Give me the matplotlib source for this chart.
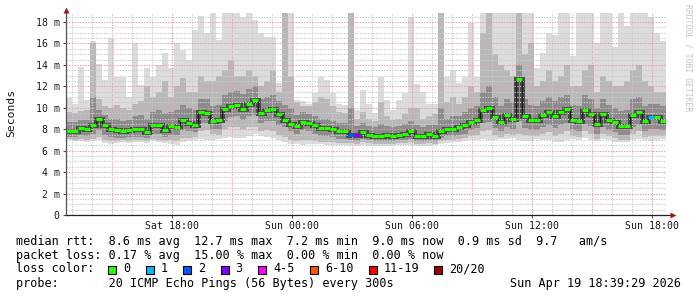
import numpy as np
import matplotlib
matplotlib.use("Agg")
import matplotlib.pyplot as plt
from matplotlib.patches import Rectangle
from matplotlib.ticker import FixedLocator, NullLocator

W, H = 697, 297
MONO = "DejaVu Sans Mono"

# ---- time axis: 30 h window, one bin per 18 minutes (hours since Sat 00:00)
start_hour = 12.7
step_hours = 0.3
window_hours = 30.0

x_tick_hours = [18, 24, 30, 36, 42]
x_tick_labels = ["Sat 18:00", "Sun 00:00", "Sun 06:00", "Sun 12:00", "Sun 18:00"]
y_ticks = [0, 2, 4, 6, 8, 10, 12, 14, 16, 18]
y_tick_labels = ["0", "2 m", "4 m", "6 m", "8 m", "10 m", "12 m", "14 m", "16 m", "18 m"]

# ---- median rtt (ms)
median = [7.8, 7.85, 8.1, 8.0, 8.4, 9.0, 8.4, 8.0, 7.95, 7.8,
          7.95, 8.05, 8.0, 7.75, 8.35, 8.4, 7.95, 8.3, 8.25, 8.9,
          8.6, 8.4, 9.6, 9.55, 8.75, 8.9, 9.9, 10.2, 10.25, 9.9,
          10.4, 10.7, 9.5, 9.8, 9.85, 9.4, 8.9, 8.5, 8.3, 8.7,
          8.55, 8.4, 8.15, 8.1, 8.0, 7.8, 7.85, 7.5, 7.45, 7.7,
          7.5, 7.4, 7.4, 7.45, 7.4, 7.5, 7.6, 7.8, 7.4, 7.35,
          7.6, 7.4, 7.8, 8.05, 8.0, 8.2, 8.4, 8.7, 8.9, 9.8,
          10.0, 9.1, 8.7, 9.3, 9.0, 12.7, 9.2, 8.9, 8.9, 9.3,
          9.6, 9.2, 9.65, 9.9, 8.9, 8.8, 9.8, 9.4, 8.5, 9.4,
          8.9, 8.65, 8.3, 8.3, 9.3, 9.6, 8.8, 9.1, 9.1, 8.8]

# ---- packet loss per bin (pings lost of 20)
loss = [0, 0, 0, 0, 0, 0, 0, 0, 0, 0,
        0, 0, 0, 0, 0, 0, 0, 0, 0, 0,
        0, 0, 0, 0, 0, 0, 0, 0, 0, 0,
        0, 0, 0, 0, 0, 0, 0, 0, 0, 0,
        0, 0, 0, 0, 0, 0, 0, 2, 3, 0,
        0, 0, 0, 0, 0, 0, 0, 0, 0, 0,
        0, 0, 0, 0, 0, 0, 0, 0, 0, 0,
        0, 0, 0, 0, 0, 0, 0, 0, 0, 0,
        0, 0, 0, 0, 0, 0, 0, 0, 0, 0,
        0, 0, 0, 0, 0, 0, 0, 1, 0, 0]

# ---- smoke: spread of the 20 pings (ms)
smoke_max = [10.9, 10.4, 13.8, 10.7, 16.2, 14.1, 12.6, 16.5, 12.9, 12.9,
             11.0, 16.0, 12.1, 13.7, 12.9, 14.0, 15.1, 13.7, 16.0, 15.4,
             14.5, 17.3, 18.6, 17.0, 19.0, 16.3, 19.0, 19.0, 19.0, 18.5,
             19.0, 18.2, 17.0, 16.6, 16.6, 12.3, 19.0, 19.0, 10.7, 10.6,
             10.4, 11.4, 12.9, 12.6, 11.4, 10.4, 10.3, 19.0, 9.8, 11.7,
             10.4, 9.5, 12.9, 10.7, 9.8, 10.7, 11.4, 18.5, 12.2, 11.5,
             10.4, 10.4, 19.0, 12.9, 13.5, 12.3, 12.9, 17.9, 12.9, 19.0,
             19.0, 19.0, 19.0, 19.0, 19.0, 19.0, 19.0, 19.0, 13.7, 15.1,
             17.0, 16.8, 19.0, 19.0, 14.8, 19.0, 19.0, 19.0, 16.0, 19.0,
             19.0, 15.7, 19.0, 17.6, 19.0, 19.0, 19.0, 18.5, 17.0, 16.2]
smoke_hi2 = [9.6, 9.5, 9.7, 9.8, 16.0, 10.8, 10.2, 10.0, 10.3, 10.0,
             9.8, 10.4, 10.6, 12.0, 11.0, 11.5, 12.5, 11.0, 12.0, 12.8,
             11.5, 11.5, 13.0, 12.5, 12.5, 13.0, 13.5, 14.5, 13.0, 13.0,
             13.5, 13.0, 12.0, 12.5, 13.5, 11.5, 19.0, 13.0, 10.5, 10.2,
             10.2, 10.5, 11.0, 10.8, 10.2, 9.6, 9.5, 19.0, 9.0, 9.6,
             9.0, 8.8, 10.5, 9.2, 8.9, 9.0, 9.4, 10.0, 10.0, 9.0,
             9.2, 9.4, 19.0, 10.5, 11.0, 10.4, 11.0, 12.0, 11.5, 17.0,
             19.0, 15.0, 14.0, 13.5, 13.0, 19.0, 15.0, 16.0, 12.0, 12.5,
             13.5, 12.5, 13.0, 14.0, 12.0, 12.0, 13.5, 14.0, 11.5, 13.0,
             12.5, 12.0, 12.0, 12.5, 13.5, 14.0, 12.5, 12.0, 11.5, 11.5]
smoke_hi3 = [8.7, 8.7, 8.9, 8.9, 11.0, 9.8, 9.3, 9.0, 9.0, 8.8,
             8.9, 9.2, 9.3, 9.0, 9.6, 9.8, 9.5, 9.6, 9.8, 10.3,
             10.0, 9.8, 10.8, 10.8, 10.2, 10.3, 11.2, 11.5, 11.6, 11.3,
             11.8, 12.0, 10.8, 11.0, 11.2, 10.6, 10.3, 10.0, 9.3, 9.6,
             9.4, 9.2, 9.0, 9.0, 8.8, 8.6, 8.6, 10.0, 8.3, 8.6,
             8.3, 8.2, 8.5, 8.3, 8.2, 8.3, 8.5, 8.8, 8.4, 8.2,
             8.4, 8.4, 10.0, 9.0, 9.2, 9.2, 9.6, 10.0, 10.2, 11.5,
             12.0, 11.0, 10.2, 10.8, 10.5, 14.0, 10.8, 10.3, 10.2, 10.6,
             11.0, 10.6, 11.0, 11.2, 10.3, 10.2, 11.2, 10.8, 10.0, 10.8,
             10.3, 10.0, 9.7, 9.8, 10.8, 11.0, 10.2, 10.4, 10.4, 10.2]
smoke_lo3 = [7.3, 7.3, 7.5, 7.4, 7.6, 7.9, 7.5, 7.3, 7.2, 7.2,
             7.3, 7.3, 7.3, 7.2, 7.6, 7.6, 7.3, 7.5, 7.5, 7.9,
             7.8, 7.7, 8.6, 8.6, 8.0, 8.0, 8.8, 9.1, 9.2, 8.9,
             9.2, 9.3, 8.6, 8.8, 8.8, 8.4, 8.2, 7.8, 7.6, 7.9,
             7.8, 7.6, 7.4, 7.4, 7.3, 7.1, 7.1, 7.0, 6.9, 7.1,
             7.0, 6.9, 6.9, 6.9, 6.9, 7.0, 7.0, 7.1, 6.9, 6.9,
             7.0, 6.9, 7.2, 7.4, 7.4, 7.5, 7.6, 7.9, 8.1, 8.6,
             8.7, 8.1, 7.8, 8.2, 8.0, 8.8, 8.1, 7.9, 7.9, 8.2,
             8.4, 8.1, 8.4, 8.6, 7.9, 7.8, 8.5, 8.3, 7.6, 8.2,
             7.9, 7.7, 7.5, 7.5, 8.2, 8.4, 7.8, 8.0, 8.0, 7.9]
smoke_lo2 = [7.1, 7.0, 7.1, 7.0, 7.1, 7.3, 7.0, 6.9, 6.9, 7.0,
             6.9, 7.0, 7.0, 6.9, 7.1, 7.0, 6.9, 7.0, 6.9, 7.2,
             7.2, 7.3, 7.8, 7.9, 7.6, 7.5, 8.0, 8.2, 8.2, 8.0,
             8.2, 8.2, 7.8, 7.9, 7.8, 7.5, 7.3, 7.0, 6.9, 7.0,
             7.0, 6.9, 6.8, 6.8, 6.8, 6.7, 6.7, 6.7, 6.6, 6.8,
             6.7, 6.6, 6.6, 6.6, 6.6, 6.7, 6.7, 6.8, 6.6, 6.6,
             6.7, 6.6, 6.9, 7.0, 7.0, 7.1, 7.2, 7.4, 7.5, 7.8,
             7.9, 7.5, 7.3, 7.6, 7.5, 7.6, 7.5, 7.4, 7.4, 7.6,
             7.7, 7.4, 7.6, 7.8, 7.4, 7.3, 7.8, 7.6, 7.1, 7.6,
             7.4, 7.2, 7.0, 7.0, 7.6, 7.8, 7.3, 7.4, 7.4, 7.4]
smoke_min = [7.0, 6.9, 6.9, 6.8, 6.9, 7.0, 6.7, 6.6, 6.7, 6.8,
             6.7, 6.8, 6.8, 6.7, 6.9, 6.8, 6.7, 6.6, 6.5, 6.8,
             6.9, 7.0, 7.1, 7.0, 7.0, 7.1, 7.2, 7.3, 7.2, 7.2,
             7.4, 7.6, 7.4, 7.3, 7.2, 7.0, 6.8, 6.6, 6.6, 6.5,
             6.6, 6.6, 6.6, 6.5, 6.5, 6.5, 6.5, 6.4, 6.4, 6.5,
             6.4, 6.4, 6.4, 6.4, 6.4, 6.5, 6.5, 6.5, 6.4, 6.4,
             6.4, 6.5, 6.6, 6.7, 6.8, 6.8, 6.9, 7.0, 7.0, 7.1,
             7.0, 7.0, 7.1, 7.1, 7.2, 7.0, 6.9, 7.0, 7.1, 7.0,
             7.0, 6.8, 6.8, 7.0, 7.1, 7.0, 7.2, 7.0, 6.9, 7.1,
             7.0, 6.8, 6.8, 6.8, 7.0, 7.1, 7.0, 6.9, 7.0, 7.1]

# ---- loss colour legend
loss_labels = ["0", "1", "2", "3", "4-5", "6-10", "11-19", "20/20"]
loss_colors = ["#26ff00", "#00b8ff", "#0059ff", "#7e00ff", "#ff00ff",
               "#ff5500", "#ff0000", "#a10000"]
loss_color_by_count = {0: 0, 1: 1, 2: 2, 3: 3}

stat_lines = [
    "median rtt:  8.6 ms avg  12.7 ms max  7.2 ms min  9.0 ms now  0.9 ms sd  9.7   am/s",
    "packet loss: 0.17 % avg  15.00 % max  0.00 % min  0.00 % now",
]
probe_line = "probe:       20 ICMP Echo Pings (56 Bytes) every 300s"
stamp = "Sun Apr 19 18:39:29 2026"

# ================= drawing =================
fig = plt.figure(figsize=(W / 100, H / 100), dpi=100, facecolor="white")
px_per_ms = 10.72
ax = fig.add_axes([66 / W, 1 - 215 / H, 600 / W, 202 / H])
ax.set_facecolor("white")
ax.set_xlim(start_hour, start_hour + window_hours)
ax.set_ylim(0, 202 / px_per_ms)
for s in ax.spines.values():
    s.set_visible(False)

n = len(median)
edges = start_hour + step_hours * np.arange(n + 1)

ax.stairs(smoke_max, edges, baseline=smoke_min, fill=True,
          facecolor="#dcdcdc", edgecolor="none", zorder=1)
ax.stairs(smoke_hi2, edges, baseline=smoke_lo2, fill=True,
          facecolor="#b8b8b8", edgecolor="none", zorder=1.1)
ax.stairs(smoke_hi3, edges, baseline=smoke_lo3, fill=True,
          facecolor="#8c8c8c", edgecolor="none", zorder=1.2)
ax.stairs(median, edges, color="#4a4a4a", lw=3.6, zorder=1.3, baseline=None)

# grid
ylim_top = 202 / px_per_ms
for h in np.arange(np.ceil(start_hour), start_hour + window_hours + 0.01, 1.0):
    major = int(round(h)) % 3 == 0
    ax.axvline(h, color="#e6a0a0" if major else "#cccccc", lw=0.8,
               ls=(0, (1.2, 1.2)), zorder=2.5)
for yv in np.arange(0.5, ylim_top, 0.5):
    major = abs(yv / 2 - round(yv / 2)) < 1e-6
    ax.axhline(yv, color="#e6a0a0" if major else "#cccccc", lw=0.8,
               ls=(0, (1.2, 1.2)), zorder=2.5)

# median coloured by loss
cols = [loss_colors[loss_color_by_count.get(l, 0)] for l in loss]
ax.vlines(edges[1:-1], median[:-1], median[1:], colors="#1a1a1a", lw=0.8, zorder=3)
ax.hlines(median, edges[:-1], edges[1:], colors=cols, lw=2.3, zorder=4)

# ticks
ax.xaxis.set_major_locator(FixedLocator(x_tick_hours))
ax.set_xticklabels(x_tick_labels, fontfamily=MONO, fontsize=7.1)
ax.xaxis.set_minor_locator(NullLocator())
ax.yaxis.set_major_locator(FixedLocator(y_ticks))
ax.set_yticklabels(y_tick_labels, fontfamily=MONO, fontsize=7.1)
ax.tick_params(axis="both", length=2, width=0.8, color="#505050", pad=2.5,
               labelcolor="#1a1a1a")

# axes with arrows
ax.plot([0, 0], [0, 1.01], transform=ax.transAxes, color="#505050", lw=0.9,
        clip_on=False, zorder=5)
ax.plot([0, 1.008], [0, 0], transform=ax.transAxes, color="#202020", lw=0.9,
        clip_on=False, zorder=5)
ax.plot([0], [1.015], transform=ax.transAxes, marker="^", ms=5, color="#a01818",
        clip_on=False, zorder=6, mec="none")
ax.plot([1.011], [0], transform=ax.transAxes, marker=">", ms=5, color="#a01818",
        clip_on=False, zorder=6, mec="none")

# side texts
fig.text(11 / W, 1 - 113 / H, "Seconds", rotation=90, ha="center", va="center",
         fontfamily=MONO, fontsize=8.2, color="#1a1a1a")
fig.text(688 / W, 1 - 4 / H, "RRDTOOL / TOBI OETIKER", rotation=270, ha="center",
         va="top", fontfamily=MONO, fontsize=5.9, color="#c4c4c4")

# legend block
fs = 8.5
line_y = [241, 255, 269, 283]
for txt, yy in zip(stat_lines, line_y[:2]):
    fig.text(16 / W, 1 - yy / H, txt, ha="left", va="center", fontfamily=MONO,
             fontsize=fs, color="#000000")
fig.text(16 / W, 1 - line_y[2] / H, "loss color:", ha="left", va="center",
         fontfamily=MONO, fontsize=fs, color="#000000")
char_w = 7.05
xx = 108.0
for lab, col in zip(loss_labels, loss_colors):
    fig.add_artist(Rectangle((xx / W, 1 - (line_y[2] + 4.5) / H), 8 / W, 8 / H,
                             transform=fig.transFigure, facecolor=col,
                             edgecolor="#000000", lw=0.8))
    fig.text((xx + 15) / W, 1 - line_y[2] / H, lab, ha="left", va="center",
             fontfamily=MONO, fontsize=fs, color="#000000")
    xx = xx + 15 + len(lab) * char_w + 15.5
fig.text(16 / W, 1 - line_y[3] / H, probe_line, ha="left", va="center",
         fontfamily=MONO, fontsize=fs, color="#000000")
fig.text(681 / W, 1 - line_y[3] / H, stamp, ha="right", va="center",
         fontfamily=MONO, fontsize=fs, color="#000000")

fig.savefig("out.png", dpi=100, facecolor="white")
